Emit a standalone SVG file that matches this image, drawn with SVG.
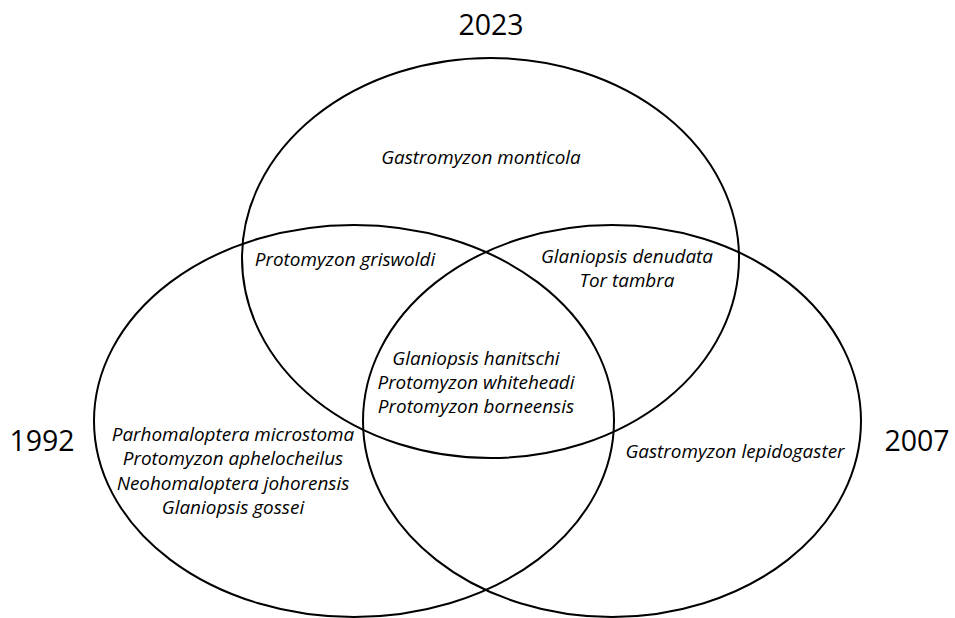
<svg xmlns="http://www.w3.org/2000/svg" width="955" height="618" viewBox="0 0 955 618">
  <style>
    .set { fill: none; stroke: #000; stroke-width: 2; }
    .year { font-family: "Open Sans", "Liberation Sans", sans-serif; font-size: 28.5px; fill: #000; text-anchor: middle; }
    .sp { font-family: "Open Sans", "Liberation Sans", sans-serif; font-style: italic; font-size: 18.9px; fill: #000; text-anchor: middle; }
  </style>
  <rect width="955" height="618" fill="#fff"/>
  <g id="set-2023">
    <ellipse class="set" cx="490.5" cy="258" rx="248.5" ry="200"/>
    <text class="year" x="491" y="35">2023</text>
  </g>
  <g id="set-1992">
    <ellipse class="set" cx="354" cy="421" rx="260" ry="196"/>
    <text class="year" x="42" y="451">1992</text>
  </g>
  <g id="set-2007">
    <ellipse class="set" cx="612" cy="421" rx="249" ry="196"/>
    <text class="year" x="917" y="451">2007</text>
  </g>
  <g id="only-2023">
    <text class="sp" x="481" y="164">Gastromyzon monticola</text>
  </g>
  <g id="r-1992-2023">
    <text class="sp" x="345" y="266">Protomyzon griswoldi</text>
  </g>
  <g id="r-2007-2023">
    <text class="sp" x="627" y="263">Glaniopsis denudata</text>
    <text class="sp" x="627" y="287">Tor tambra</text>
  </g>
  <g id="r-all">
    <text class="sp" x="476" y="365">Glaniopsis hanitschi</text>
    <text class="sp" x="476" y="389">Protomyzon whiteheadi</text>
    <text class="sp" x="476" y="413">Protomyzon borneensis</text>
  </g>
  <g id="only-1992">
    <text class="sp" x="233" y="441">Parhomaloptera microstoma</text>
    <text class="sp" x="233" y="465">Protomyzon aphelocheilus</text>
    <text class="sp" x="233" y="490">Neohomaloptera johorensis</text>
    <text class="sp" x="233" y="514">Glaniopsis gossei</text>
  </g>
  <g id="only-2007">
    <text class="sp" x="735" y="458">Gastromyzon lepidogaster</text>
  </g>
  <g id="connectors"></g>
</svg>
